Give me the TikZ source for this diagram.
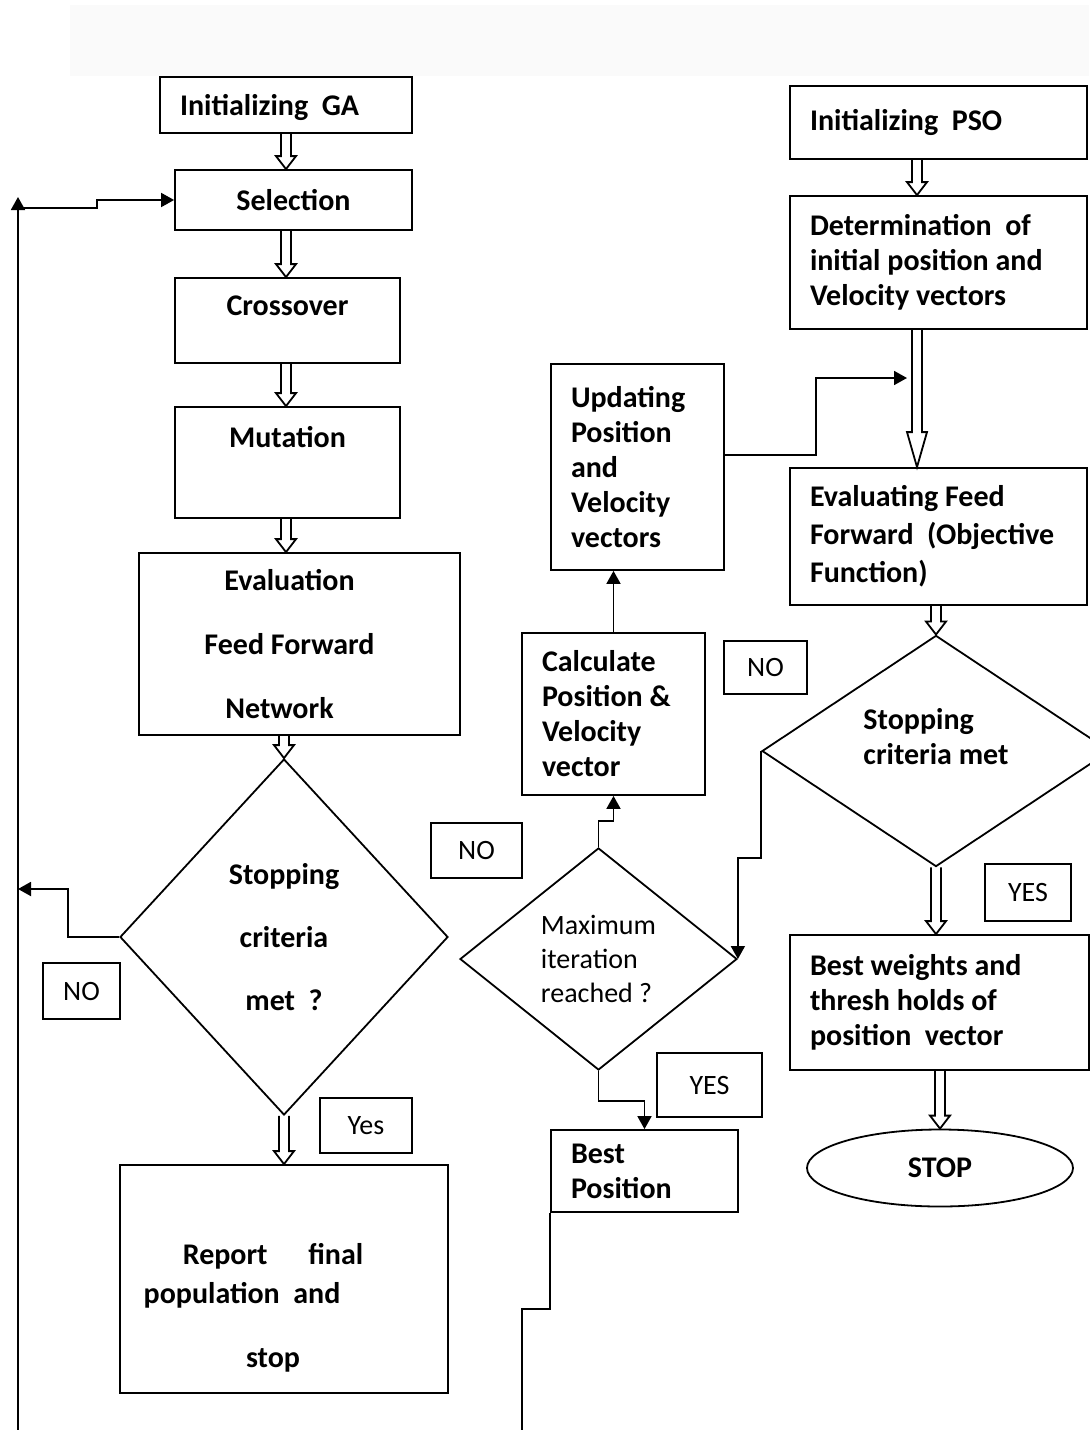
\documentclass[tikz,border=0pt]{standalone}
\usepackage{fontspec}
\setmainfont{Carlito}
\usetikzlibrary{shapes.geometric,arrows.meta,calc}

\tikzset{
  box/.style={draw, rectangle, inner sep=0pt, font=\fontsize{15}{17.5}\selectfont\bfseries},
  lbox/.style={box, align=flush left, inner xsep=10pt},
  dbox/.style={draw, diamond, inner sep=0pt, font=\fontsize{15}{17.5}\selectfont\bfseries},
  lab/.style={draw, rectangle, inner sep=0pt, font=\fontsize{14}{17}\selectfont},
  arr/.style={-{Triangle[length=6.5pt,width=7pt]}}
}
% hollow double arrow, x taken from the first point
\newcommand{\DArrow}[3][6.5pt]{%
  \draw[line join=miter] let \p1=(#2), \p2=(#3) in
    (\x1-2.5pt,\y1) -- (\x1-2.5pt,\y2+#1) -- (\x1-5pt,\y2+#1) -- (\x1,\y2)
    -- (\x1+5pt,\y2+#1) -- (\x1+2.5pt,\y2+#1) -- (\x1+2.5pt,\y1);}

\begin{document}
\begin{tikzpicture}[x=0.5pt, y=-0.5pt, line width=0.9pt]
\useasboundingbox (0,0) rectangle (1089,1430);
\fill[black!2] (70,5) rectangle (1089,76);

% GA column
\node[lbox, text width=106pt, minimum height=28pt, text depth=-1.5pt] (iniga) at (286,105) {Initializing\ \ GA};
\node[box, minimum width=118.5pt, minimum height=30pt] (sel) at (293.5,200) {Selection};
\node[box, minimum width=112.5pt, minimum height=42.5pt, text depth=14.5pt] (cross) at (287.5,320.5) {Crossover};
\node[box, minimum width=112.5pt, minimum height=55.5pt, text depth=25.5pt] (mut) at (287.5,462.5) {Mutation};
\node[box, align=flush center, minimum width=160.5pt, minimum height=91pt] (evalga) at (299.5,644)
  {\mbox{Evaluation\hspace{10pt}}\\[14.5pt] \mbox{Feed Forward\hspace{10pt}}\\[14.5pt] \mbox{Network\hspace{20pt}}};
\node[dbox, align=flush center, minimum width=164pt, minimum height=178pt] (dia1) at (284,937)
  {Stopping\\[14pt] criteria\\[14pt] met\ \ ?};
\node[box, align=flush center, minimum width=164pt, minimum height=114pt] (report) at (284,1279)
  {\rule{0pt}{39.5pt}\mbox{Report\ \ \ \ \ \ final\hspace{11pt}}\\[2pt]
   \mbox{population\ \ and\hspace{42pt}}\\[14.5pt] \mbox{stop\hspace{11pt}}};
\node[lab, minimum width=46pt, minimum height=27.5pt] (yes1) at (366,1125.5) {Yes};
\node[lab, minimum width=38.5pt, minimum height=28pt] (no1) at (81.5,991) {NO};
\node[lab, minimum width=45.5pt, minimum height=27.5pt] (no2) at (476.5,850.5) {NO};

% PSO middle column
\node[lbox, text width=66.5pt, minimum height=103pt] (upd) at (637.5,467)
  {Updating\\ Position\\ and\\ Velocity\\ vectors};
\node[lbox, text width=71.5pt, minimum height=81pt] (calc) at (613.5,714)
  {Calculate\\ Position \&\\ Velocity\\ vector};
\node[lab, minimum width=41.5pt, minimum height=26.5pt] (no3) at (765.5,667.5) {NO};
\node[dbox, font=\fontsize{14}{17.2}\selectfont, align=flush left, minimum width=138.5pt, minimum height=111pt] (dia2) at (598.5,959)
  {Maximum\\ iteration\\ reached ?};
\node[lab, minimum width=52.5pt, minimum height=32pt] (yes2) at (709.5,1085) {YES};
\node[lbox, text width=73.5pt, minimum height=41pt] (bestpos) at (644.5,1171) {Best\\ Position};

% PSO right column
\node[lbox, text width=128.5pt, minimum height=36.5pt] (inipso) at (938.5,122.5) {Initializing\ \ PSO};
\node[lbox, text width=128.5pt, minimum height=66.5pt] (deter) at (938.5,262.5)
  {Determination\ \ of\\ initial position and\\ Velocity vectors};
\node[lbox, text width=128.5pt, minimum height=68.5pt] (evalpso) at (938.5,536.5)
  {Evaluating Feed\\[1.5pt] Forward\ \ (Objective\\[1.5pt] Function)};
\node[dbox, align=flush left, minimum width=174pt, minimum height=111pt] (dia3) at (936,751)
  {Stopping\\ criteria met\rule[-15pt]{0pt}{1pt}};
\node[lab, minimum width=43pt, minimum height=28.5pt] (yes3) at (1028,892.5) {YES};
\node[lbox, text width=129.5pt, minimum height=67.5pt] (bestw) at (939.5,1002.5)
  {Best weights and\\ thresh holds of\\ position\ \ vector};
\node[draw, ellipse, inner sep=0pt, minimum width=133pt, minimum height=38.5pt,
  font=\fontsize{15}{17.5}\selectfont\bfseries] (stop) at (940,1168) {STOP};

% free ends of the long lines
\coordinate (lbot) at (18,1430);
\coordinate (ltop) at (18,197);
\coordinate (lfb) at (18,889);
\coordinate (lsel) at (18,208);
\coordinate (upin) at (907,378);
\coordinate (bpend) at (522,1430);

% double arrows
\DArrow{iniga.south}{sel.north}
\DArrow{sel.south -| iniga.south}{cross.north}
\DArrow{cross.south -| iniga.south}{mut.north}
\DArrow{mut.south -| iniga.south}{evalga.north}
\DArrow{evalga.south -| dia1.north}{dia1.north}
\DArrow{dia1.south}{report.north}

\DArrow{[xshift=-10.75pt]inipso.south}{deter.north}
\DArrow[17.5pt]{[xshift=-10.75pt]deter.south}{evalpso.north}
\DArrow{dia3.north |- evalpso.south}{dia3.north}
\DArrow{dia3.south}{bestw.north}
\DArrow{bestw.south -| stop.north}{stop.north}

% single arrows
\draw[arr] (lbot) -- (ltop);
\draw[arr] (dia1.west) -- ++(-51,0) |- (lfb);
\draw[arr] (lsel) -- ++(79,0) |- (sel.west);

\draw[arr] (calc.north) -- (calc.north |- upd.south);
\draw[arr] (dia2.north) -- ++(0,-26) -| (calc.south);
\draw[arr] (dia2.south) -- ++(0,30) -| (bestpos.north);
\draw[arr] ([yshift=6pt]upd.east) -- ++(91,0) |- (upin);
\draw[arr] (dia3.west) -- ++(0,107) -| (dia2.east);
\draw (bestpos.south west) -- ++(0,96) -| (bpend);

\end{tikzpicture}
\end{document}
